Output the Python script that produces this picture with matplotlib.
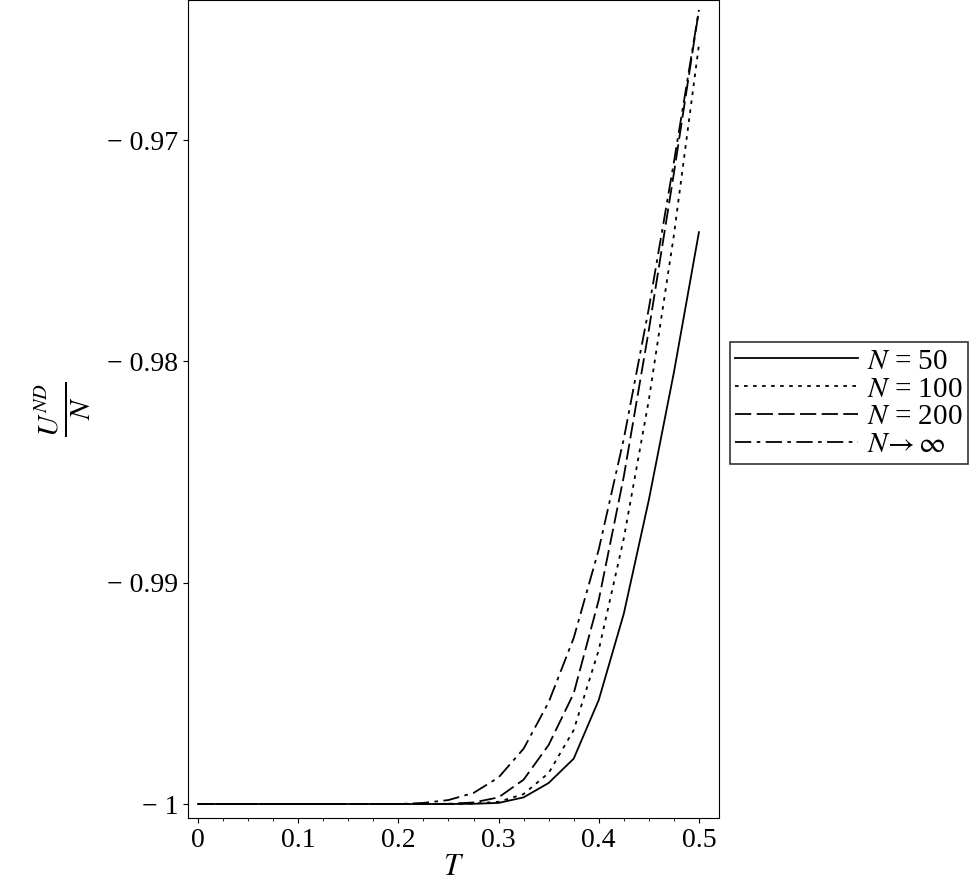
import matplotlib
matplotlib.use("Agg")
import matplotlib.pyplot as plt
from matplotlib.ticker import MultipleLocator, FuncFormatter

plt.rcParams['font.family'] = ['Liberation Serif', 'DejaVu Serif']
plt.rcParams['mathtext.fontset'] = 'stix'

T = [0.0, 0.1, 0.15, 0.2, 0.225, 0.25, 0.275, 0.3, 0.325, 0.35, 0.375, 0.4, 0.425, 0.45, 0.475, 0.5]
u50 = [-1, -1, -1, -1, -1, -1, -0.99999, -0.99995, -0.99970, -0.99905, -0.99795, -0.99530, -0.99140, -0.98626, -0.98050, -0.97416]
u100 = [-1, -1, -1, -1, -1, -1, -0.99998, -0.99990, -0.99955, -0.99860, -0.99666, -0.99304, -0.98800, -0.98174, -0.97430, -0.96570]
u200 = [-1, -1, -1, -1, -1, -0.99999, -0.99993, -0.99970, -0.99890, -0.99733, -0.99500, -0.99078, -0.98520, -0.97858, -0.97150, -0.96412]
uinf = [-1, -1, -1, -1, -0.99995, -0.99982, -0.99950, -0.99880, -0.99750, -0.99540, -0.99250, -0.98850, -0.98350, -0.97760, -0.97100, -0.96412]

fig = plt.figure(figsize=(9.77, 8.92), dpi=100)
ax = fig.add_axes([0.1924, 0.083, 0.5435, 0.917])
ax.plot(T, u50, 'k-', lw=1.3, label=r'$N$ = 50')
ax.plot(T, u100, 'k', ls=(0, (2, 3)), lw=1.3, label=r'$N$ = 100')
ax.plot(T, u200, 'k', ls=(0, (9, 3)), lw=1.3, label=r'$N$ = 200')
ax.plot(T, uinf, 'k', ls=(0, (9, 3, 2, 3)), lw=1.3, label=r'$N\!\rightarrow\infty$')
ax.set_xlim(-0.01, 0.52)
ax.set_ylim(-1.00063, -0.96367)
ax.xaxis.set_major_locator(MultipleLocator(0.1))
ax.xaxis.set_minor_locator(MultipleLocator(0.025))
ax.set_yticks([-1, -0.99, -0.98, -0.97])
ax.yaxis.set_major_formatter(FuncFormatter(lambda v, p: '\u2212 1' if abs(v+1) < 1e-9 else '\u2212 %.2f' % abs(v)))
ax.xaxis.set_major_formatter(FuncFormatter(lambda v, p: '0' if abs(v) < 1e-9 else '%.1f' % v))
ax.tick_params(labelsize=20, direction='out')
ax.set_xlabel(r'$T$', fontsize=22, labelpad=0)
ax.set_ylabel(r'$\frac{U^{ND}}{N}$', fontsize=30, labelpad=10)
leg = ax.legend(loc='center left', bbox_to_anchor=(1.02, 0.507), fontsize=21, frameon=True,
                fancybox=False, edgecolor='black', handlelength=4.2, handletextpad=0.3,
                borderpad=0.2, labelspacing=0.05, borderaxespad=0)
leg.get_frame().set_linewidth(1.2)
fig.savefig('out.png', dpi=100)
